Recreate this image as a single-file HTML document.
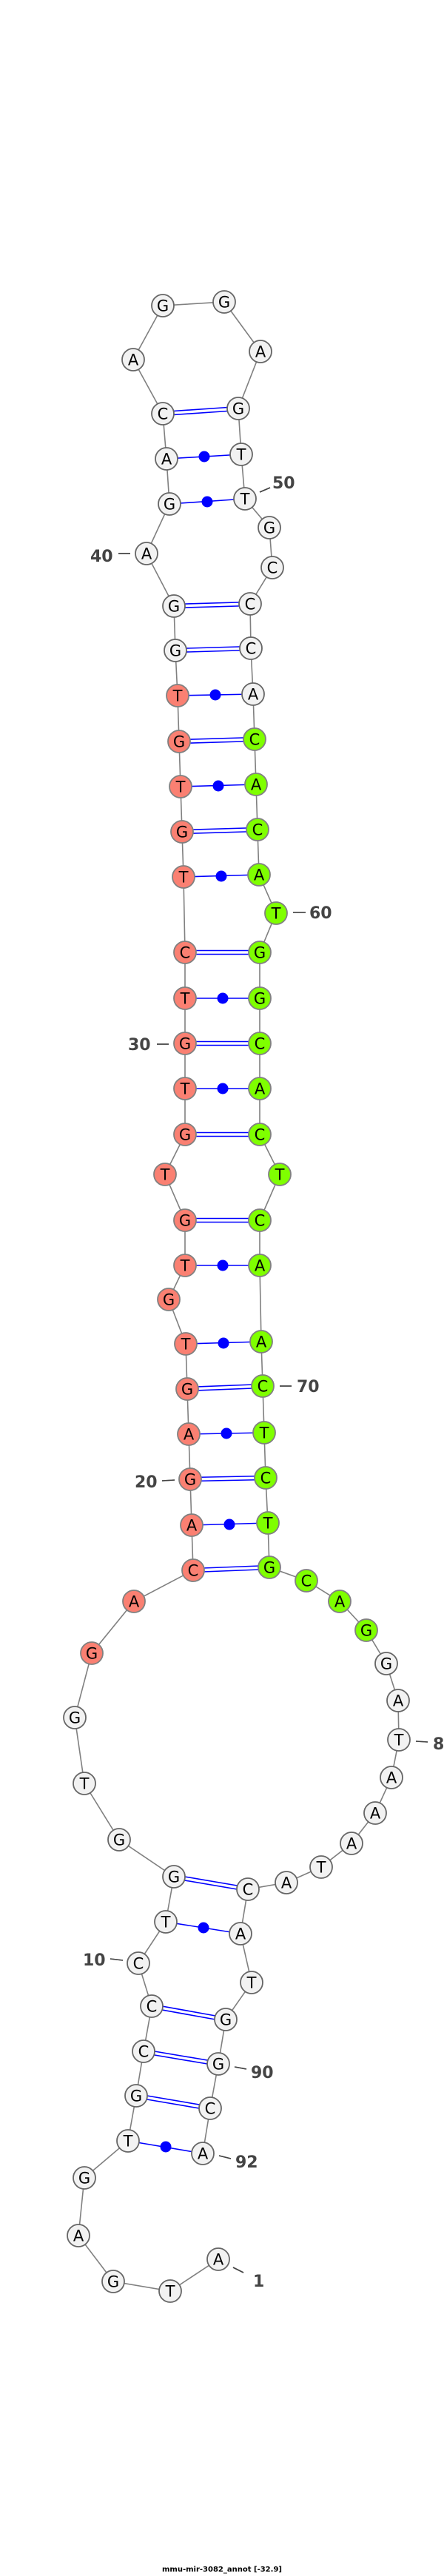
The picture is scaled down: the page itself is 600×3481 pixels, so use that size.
<!DOCTYPE html>
<html><head><meta charset="utf-8"><style>
html,body{margin:0;padding:0;background:#fff;width:600px;height:3481px;overflow:hidden}
svg{display:block}
.n text{font-family:"DejaVu Sans","Liberation Sans",sans-serif;font-size:21px;text-anchor:middle;fill:#000}
.lb{font-family:"DejaVu Sans","Liberation Sans",sans-serif;font-size:22px;font-weight:bold;fill:#444}
</style></head><body>
<svg width="600" height="3481" viewBox="0 0 600 3481" xmlns="http://www.w3.org/2000/svg">
<polyline fill="none" stroke="#808080" stroke-width="1.6" points="295,3053 230,3096 153,3083 106,3021 114,2943 173,2893 184,2832 194,2772 205,2711 187,2653 224,2597 235,2536 161,2486 114,2410 101,2321 124,2234 181,2164 261,2122 259,2061 257,1999 255,1938 253,1877 251,1816 228,1756 250,1710 250,1649 223,1587 250,1533 250,1471 250,1410 250,1349 250,1287 248,1185 246,1124 244,1063 242,1002 240,940 237,879 235,819 198,748 229,681 225,620 220,559 180,486 220,413 303,408 352,475 322,552 326,614 331,674 364,713 368,767 338,816 339,876 342,938 344,999 346,1060 348,1121 350,1182 373,1234 351,1287 351,1349 351,1410 351,1471 351,1533 378,1587 351,1649 351,1710 353,1813 355,1873 357,1936 359,1997 362,2058 364,2118 414,2136 459,2164 495,2203 522,2248 538,2298 539,2351 529,2402 507,2450 475,2491 434,2523 387,2544 335,2553 325,2613 340,2679 305,2729 295,2789 284,2849 274,2910"/>
<g stroke="#808080" stroke-width="1.6">
<line x1="351" y1="665" x2="365" y2="659"/><line x1="160" y1="748" x2="176" y2="748"/>
<line x1="396" y1="1233" x2="413" y2="1233"/><line x1="212" y1="1411" x2="228" y2="1411"/>
<line x1="378" y1="1873" x2="394" y2="1873"/><line x1="219" y1="2001" x2="236" y2="2000"/>
<line x1="562" y1="2353" x2="578" y2="2354"/><line x1="149" y1="2647" x2="166" y2="2649"/>
<line x1="317" y1="2793" x2="333" y2="2796"/><line x1="296" y1="2913" x2="312" y2="2917"/>
<line x1="315" y1="3064" x2="329" y2="3071"/>
</g>
<g stroke="#444" stroke-width="1.6">
<line x1="351" y1="665" x2="365" y2="659"/><line x1="160" y1="748" x2="176" y2="748"/>
<line x1="396" y1="1233" x2="413" y2="1233"/><line x1="212" y1="1411" x2="228" y2="1411"/>
<line x1="378" y1="1873" x2="394" y2="1873"/><line x1="219" y1="2001" x2="236" y2="2000"/>
<line x1="562" y1="2353" x2="578" y2="2354"/><line x1="149" y1="2647" x2="166" y2="2649"/>
<line x1="317" y1="2793" x2="333" y2="2796"/><line x1="296" y1="2913" x2="312" y2="2917"/>
<line x1="315" y1="3064" x2="329" y2="3071"/>
</g>
<g stroke="#0000ff" stroke-width="1.6">
<!-- double lines -->
<line x1="184" y1="2829.5" x2="284" y2="2846.5"/><line x1="184" y1="2834.5" x2="284" y2="2851.5"/>
<line x1="194" y1="2769.5" x2="295" y2="2786.5"/><line x1="194" y1="2774.5" x2="295" y2="2791.5"/>
<line x1="205" y1="2708.5" x2="305" y2="2726.5"/><line x1="205" y1="2713.5" x2="305" y2="2731.5"/>
<line x1="235" y1="2533.5" x2="335" y2="2550.5"/><line x1="235" y1="2538.5" x2="335" y2="2555.5"/>
<line x1="261" y1="2119.5" x2="364" y2="2115.5"/><line x1="261" y1="2124.5" x2="364" y2="2120.5"/>
<line x1="257" y1="1996.5" x2="359" y2="1994.5"/><line x1="257" y1="2001.5" x2="359" y2="1999.5"/>
<line x1="253" y1="1874.5" x2="355" y2="1870.5"/><line x1="253" y1="1879.5" x2="355" y2="1875.5"/>
<line x1="250" y1="1646.5" x2="351" y2="1646.5"/><line x1="250" y1="1651.5" x2="351" y2="1651.5"/>
<line x1="250" y1="1530.5" x2="351" y2="1530.5"/><line x1="250" y1="1535.5" x2="351" y2="1535.5"/>
<line x1="250" y1="1407.5" x2="351" y2="1407.5"/><line x1="250" y1="1412.5" x2="351" y2="1412.5"/>
<line x1="250" y1="1284.5" x2="351" y2="1284.5"/><line x1="250" y1="1289.5" x2="351" y2="1289.5"/>
<line x1="246" y1="1121.5" x2="348" y2="1118.5"/><line x1="246" y1="1126.5" x2="348" y2="1123.5"/>
<line x1="242" y1="999.5" x2="344" y2="996.5"/><line x1="242" y1="1004.5" x2="344" y2="1001.5"/>
<line x1="237" y1="876.5" x2="339" y2="873.5"/><line x1="237" y1="881.5" x2="339" y2="878.5"/>
<line x1="235" y1="816.5" x2="338" y2="813.5"/><line x1="235" y1="821.5" x2="338" y2="818.5"/>
<line x1="220" y1="556.5" x2="322" y2="549.5"/><line x1="220" y1="561.5" x2="322" y2="554.5"/>
<!-- single lines -->
<line x1="173" y1="2893" x2="274" y2="2910"/><line x1="224" y1="2597" x2="325" y2="2613"/>
<line x1="259" y1="2061" x2="362" y2="2058"/><line x1="255" y1="1938" x2="357" y2="1936"/>
<line x1="251" y1="1816" x2="353" y2="1813"/><line x1="250" y1="1710" x2="351" y2="1710"/>
<line x1="250" y1="1471" x2="351" y2="1471"/><line x1="250" y1="1349" x2="351" y2="1349"/>
<line x1="248" y1="1185" x2="350" y2="1182"/><line x1="244" y1="1063" x2="346" y2="1060"/>
<line x1="240" y1="940" x2="342" y2="938"/><line x1="229" y1="681" x2="331" y2="674"/>
<line x1="225" y1="620" x2="326" y2="614"/>
</g>
<g fill="#0000ff">
<circle cx="224" cy="2901" r="7.5"/><circle cx="275" cy="2605" r="7.5"/>
<circle cx="310" cy="2060" r="7.5"/><circle cx="306" cy="1937" r="7.5"/>
<circle cx="302" cy="1815" r="7.5"/><circle cx="301" cy="1710" r="7.5"/>
<circle cx="301" cy="1471" r="7.5"/><circle cx="301" cy="1349" r="7.5"/>
<circle cx="299" cy="1184" r="7.5"/><circle cx="295" cy="1062" r="7.5"/>
<circle cx="291" cy="939" r="7.5"/><circle cx="280" cy="678" r="7.5"/>
<circle cx="276" cy="617" r="7.5"/>
</g>
<g class="n" stroke="#666" stroke-width="1.8">
<g fill="#f2f2f2">
<circle cx="295" cy="3053" r="15"/><circle cx="230" cy="3096" r="15"/><circle cx="153" cy="3083" r="15"/><circle cx="106" cy="3021" r="15"/><circle cx="114" cy="2943" r="15"/><circle cx="173" cy="2893" r="15"/><circle cx="184" cy="2832" r="15"/><circle cx="194" cy="2772" r="15"/><circle cx="205" cy="2711" r="15"/><circle cx="187" cy="2653" r="15"/><circle cx="224" cy="2597" r="15"/><circle cx="235" cy="2536" r="15"/><circle cx="161" cy="2486" r="15"/><circle cx="114" cy="2410" r="15"/><circle cx="101" cy="2321" r="15"/>
<circle cx="237" cy="879" r="15"/><circle cx="235" cy="819" r="15"/><circle cx="198" cy="748" r="15"/><circle cx="229" cy="681" r="15"/><circle cx="225" cy="620" r="15"/><circle cx="220" cy="559" r="15"/><circle cx="180" cy="486" r="15"/><circle cx="220" cy="413" r="15"/><circle cx="303" cy="408" r="15"/><circle cx="352" cy="475" r="15"/><circle cx="322" cy="552" r="15"/><circle cx="326" cy="614" r="15"/><circle cx="331" cy="674" r="15"/><circle cx="364" cy="713" r="15"/><circle cx="368" cy="767" r="15"/><circle cx="338" cy="816" r="15"/><circle cx="339" cy="876" r="15"/><circle cx="342" cy="938" r="15"/>
<circle cx="522" cy="2248" r="15"/><circle cx="538" cy="2298" r="15"/><circle cx="539" cy="2351" r="15"/><circle cx="529" cy="2402" r="15"/><circle cx="507" cy="2450" r="15"/><circle cx="475" cy="2491" r="15"/><circle cx="434" cy="2523" r="15"/><circle cx="387" cy="2544" r="15"/><circle cx="335" cy="2553" r="15"/><circle cx="325" cy="2613" r="15"/><circle cx="340" cy="2679" r="15"/><circle cx="305" cy="2729" r="15"/><circle cx="295" cy="2789" r="15"/><circle cx="284" cy="2849" r="15"/><circle cx="274" cy="2910" r="15"/>
</g>
<g fill="#fa8072" stroke="#808080">
<circle cx="124" cy="2234" r="15"/><circle cx="181" cy="2164" r="15"/><circle cx="261" cy="2122" r="15"/><circle cx="259" cy="2061" r="15"/><circle cx="257" cy="1999" r="15"/><circle cx="255" cy="1938" r="15"/><circle cx="253" cy="1877" r="15"/><circle cx="251" cy="1816" r="15"/><circle cx="228" cy="1756" r="15"/><circle cx="250" cy="1710" r="15"/><circle cx="250" cy="1649" r="15"/><circle cx="223" cy="1587" r="15"/><circle cx="250" cy="1533" r="15"/><circle cx="250" cy="1471" r="15"/><circle cx="250" cy="1410" r="15"/><circle cx="250" cy="1349" r="15"/><circle cx="250" cy="1287" r="15"/><circle cx="248" cy="1185" r="15"/><circle cx="246" cy="1124" r="15"/><circle cx="244" cy="1063" r="15"/><circle cx="242" cy="1002" r="15"/><circle cx="240" cy="940" r="15"/>
</g>
<g fill="#7fff00" stroke="#808080">
<circle cx="344" cy="999" r="15"/><circle cx="346" cy="1060" r="15"/><circle cx="348" cy="1121" r="15"/><circle cx="350" cy="1182" r="15"/><circle cx="373" cy="1234" r="15"/><circle cx="351" cy="1287" r="15"/><circle cx="351" cy="1349" r="15"/><circle cx="351" cy="1410" r="15"/><circle cx="351" cy="1471" r="15"/><circle cx="351" cy="1533" r="15"/><circle cx="378" cy="1587" r="15"/><circle cx="351" cy="1649" r="15"/><circle cx="351" cy="1710" r="15"/><circle cx="353" cy="1813" r="15"/><circle cx="355" cy="1873" r="15"/><circle cx="357" cy="1936" r="15"/><circle cx="359" cy="1997" r="15"/><circle cx="362" cy="2058" r="15"/><circle cx="364" cy="2118" r="15"/><circle cx="414" cy="2136" r="15"/><circle cx="459" cy="2164" r="15"/><circle cx="495" cy="2203" r="15"/>
</g>
<g stroke="none" transform="translate(0,7.5)">
<text x="295" y="3053">A</text><text x="230" y="3096">T</text><text x="153" y="3083">G</text><text x="106" y="3021">A</text><text x="114" y="2943">G</text><text x="173" y="2893">T</text><text x="184" y="2832">G</text><text x="194" y="2772">C</text><text x="205" y="2711">C</text><text x="187" y="2653">C</text><text x="224" y="2597">T</text><text x="235" y="2536">G</text><text x="161" y="2486">G</text><text x="114" y="2410">T</text><text x="101" y="2321">G</text>
<text x="124" y="2234">G</text><text x="181" y="2164">A</text><text x="261" y="2122">C</text><text x="259" y="2061">A</text><text x="257" y="1999">G</text><text x="255" y="1938">A</text><text x="253" y="1877">G</text><text x="251" y="1816">T</text><text x="228" y="1756">G</text><text x="250" y="1710">T</text><text x="250" y="1649">G</text><text x="223" y="1587">T</text><text x="250" y="1533">G</text><text x="250" y="1471">T</text><text x="250" y="1410">G</text><text x="250" y="1349">T</text><text x="250" y="1287">C</text><text x="248" y="1185">T</text><text x="246" y="1124">G</text><text x="244" y="1063">T</text><text x="242" y="1002">G</text><text x="240" y="940">T</text>
<text x="237" y="879">G</text><text x="235" y="819">G</text><text x="198" y="748">A</text><text x="229" y="681">G</text><text x="225" y="620">A</text><text x="220" y="559">C</text><text x="180" y="486">A</text><text x="220" y="413">G</text><text x="303" y="408">G</text><text x="352" y="475">A</text><text x="322" y="552">G</text><text x="326" y="614">T</text><text x="331" y="674">T</text><text x="364" y="713">G</text><text x="368" y="767">C</text><text x="338" y="816">C</text><text x="339" y="876">C</text><text x="342" y="938">A</text>
<text x="344" y="999">C</text><text x="346" y="1060">A</text><text x="348" y="1121">C</text><text x="350" y="1182">A</text><text x="373" y="1234">T</text><text x="351" y="1287">G</text><text x="351" y="1349">G</text><text x="351" y="1410">C</text><text x="351" y="1471">A</text><text x="351" y="1533">C</text><text x="378" y="1587">T</text><text x="351" y="1649">C</text><text x="351" y="1710">A</text><text x="353" y="1813">A</text><text x="355" y="1873">C</text><text x="357" y="1936">T</text><text x="359" y="1997">C</text><text x="362" y="2058">T</text><text x="364" y="2118">G</text><text x="414" y="2136">C</text><text x="459" y="2164">A</text><text x="495" y="2203">G</text>
<text x="522" y="2248">G</text><text x="538" y="2298">A</text><text x="539" y="2351">T</text><text x="529" y="2402">A</text><text x="507" y="2450">A</text><text x="475" y="2491">A</text><text x="434" y="2523">T</text><text x="387" y="2544">A</text><text x="335" y="2553">C</text><text x="325" y="2613">A</text><text x="340" y="2679">T</text><text x="305" y="2729">G</text><text x="295" y="2789">G</text><text x="284" y="2849">C</text><text x="274" y="2910">A</text>
</g>
</g>
<g class="lb">
<text x="368" y="660">50</text>
<text x="122" y="759">40</text>
<text x="418" y="1241">60</text>
<text x="173" y="1419">30</text>
<text x="401" y="1881">70</text>
<text x="182" y="2010">20</text>
<text x="585" y="2364">8</text>
<text x="112" y="2656">10</text>
<text x="339" y="2808">90</text>
<text x="318" y="2929">92</text>
<text x="342" y="3090">1</text>
</g>
<text x="300" y="3475" text-anchor="middle" font-family="DejaVu Sans, Liberation Sans, sans-serif" font-size="10" font-weight="bold" fill="#000">mmu-mir-3082_annot [-32.9]</text>
</svg>
</body></html>
